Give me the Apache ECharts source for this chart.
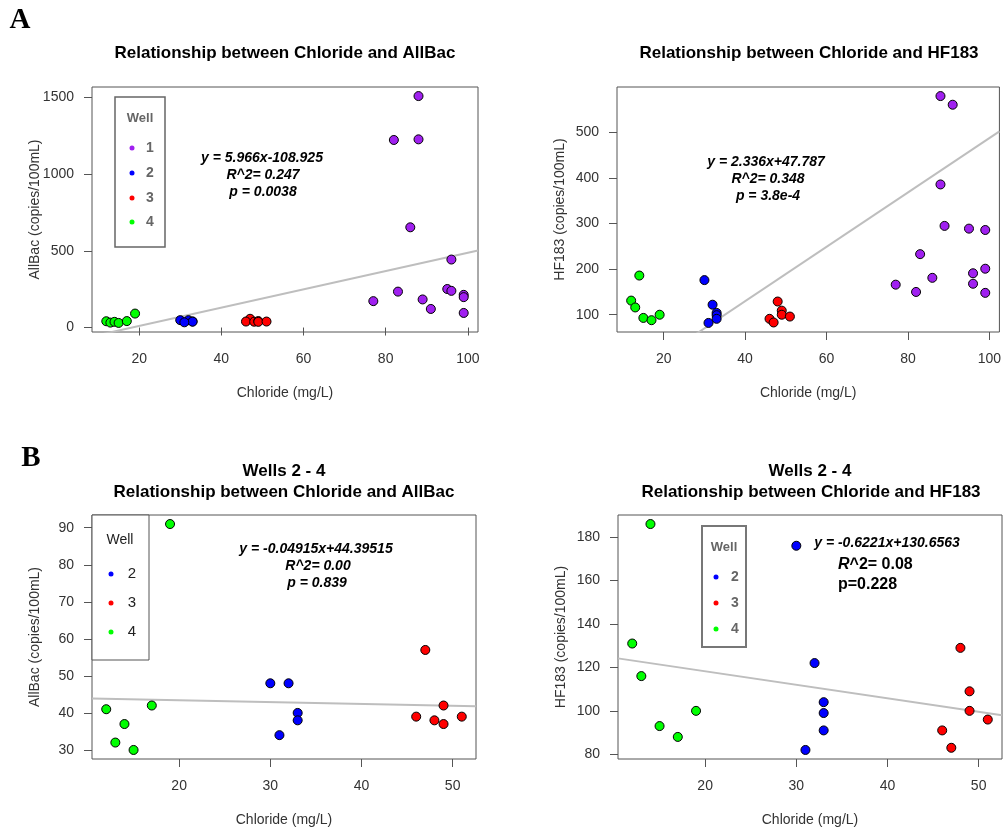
<!DOCTYPE html>
<html><head><meta charset="utf-8">
<script src="https://cdn.jsdelivr.net/npm/echarts@6/dist/echarts.min.js"></script>
<style>html,body{margin:0;padding:0;background:#fff}#c{width:1004px;height:832px}</style>
</head><body><div id="c"></div>
<script>
// ---------------- data ----------------
const wellLabels = ['1', '2', '3', '4'];

// AllBac panels: chloride (mg/L) and AllBac (copies/100mL)
const w1ChlAllBac = [88, 82, 88, 86, 96, 83, 95, 96, 99, 99, 77, 89, 91, 99];
const w1AllBac    = [1508, 1222, 1226, 653, 443, 234, 251, 239, 213, 198, 172, 183, 121, 95];
const w2ChlAllBac = [30, 32, 33, 33, 31];
const w2AllBac    = [48, 48, 40, 38, 34];
const w3ChlAllBac = [47, 46, 48, 49, 49, 51];
const w3AllBac    = [57, 39, 38, 42, 37, 39];
const w4ChlAllBac = [12, 13, 14, 15, 17, 19];
const w4AllBac    = [41, 32, 37, 30, 42, 91];

// HF183 panels: chloride (mg/L) and HF183 (copies/100mL)
const w1ChlHF = [88, 91, 88, 89, 95, 99, 83, 99, 96, 86, 77, 96, 82, 99];
const w1HF183 = [580, 561, 386, 295, 289, 286, 233, 201, 191, 181, 166, 168, 150, 148];
const w2ChlHF = [30, 32, 33, 33, 33, 31];
const w2HF183 = [176, 122, 104, 99, 91, 82];
const w3ChlHF = [48, 49, 49, 51, 46, 47];
const w3HF183 = [129, 109, 100, 96, 91, 83];
const w4ChlHF = [14, 12, 13, 15, 17, 19];
const w4HF183 = [186, 131, 116, 93, 88, 100];

// tick labels
const xTicksA  = [20, 40, 60, 80, 100];
const xTicksB  = [20, 30, 40, 50];
const yTicksA1 = [0, 500, 1000, 1500];
const yTicksA2 = [100, 200, 300, 400, 500];
const yTicksB1 = [30, 40, 50, 60, 70, 80, 90];
const yTicksB2 = [80, 100, 120, 140, 160, 180];

// fitted lines as drawn [slope, intercept]
const lineA1 = [5.966, -108.925];
const lineA2 = [5.966, -108.925];   // the HF183 panel shows the AllBac fit line
const lineB1 = [-0.04915, 44.39515];
const lineB2 = [-0.6221, 130.6563];

// annotation texts
const eqA1 = ['y = 5.966x-108.925', 'R^2= 0.247', 'p = 0.0038'];
const eqA2 = ['y = 2.336x+47.787', 'R^2= 0.348', 'p = 3.8e-4'];
const eqB1 = ['y = -0.04915x+44.39515', 'R^2= 0.00', 'p = 0.839'];
const eqB2 = ['y = -0.6221x+130.6563', 'R^2= 0.08', 'p=0.228'];

// ---------------- styles ----------------
const wellColors = { '1': '#A020F0', '2': '#0000FF', '3': '#FF0000', '4': '#00FF00' };
const FONT = '"Liberation Sans", Arial, sans-serif';
const BOX = '#555';

function rRange(arrs) {
  const all = [].concat(...arrs);
  const mn = Math.min(...all), mx = Math.max(...all);
  const pad = (mx - mn) * 0.04;
  return [mn - pad, mx + pad];
}
const zip = (xs, ys) => xs.map((x, i) => [x, ys[i]]);

const xRangeA  = rRange([w1ChlAllBac, w2ChlAllBac, w3ChlAllBac, w4ChlAllBac]);
const yRangeA1 = rRange([w1AllBac, w2AllBac, w3AllBac, w4AllBac]);
const yRangeA2 = rRange([w1HF183, w2HF183, w3HF183, w4HF183]);
const xRangeB  = rRange([w2ChlAllBac, w3ChlAllBac, w4ChlAllBac]);
const yRangeB1 = rRange([w2AllBac, w3AllBac, w4AllBac]);
const yRangeB2 = rRange([w2HF183, w3HF183, w4HF183]);

const grids = [
  { left: 92,  top: 87,  width: 386, height: 245 },
  { left: 617, top: 87,  width: 385, height: 245 },
  { left: 92,  top: 515, width: 384, height: 244 },
  { left: 618, top: 515, width: 384, height: 244 }
].map(g => Object.assign(g, { show: true, borderColor: BOX, borderWidth: 1, backgroundColor: 'transparent' }));

function axis(gi, range, ticks, name, isY) {
  return {
    type: 'value', gridIndex: gi, min: range[0], max: range[1],
    position: isY ? 'left' : 'bottom',
    axisLine: { show: false }, splitLine: { show: false },
    axisTick: { show: true, inside: false, customValues: ticks, length: 8, lineStyle: { color: BOX, width: 1 } },
    axisLabel: { customValues: ticks, fontSize: 14, color: '#333', fontFamily: FONT, margin: isY ? 18 : 20,
                 formatter: v => String(v) },
    name: name, nameLocation: 'middle', nameGap: isY ? 50 : 54, nameRotate: isY ? 90 : 0,
    nameMoveOverlap: false,
    nameTextStyle: { fontSize: 14, color: '#333', fontFamily: FONT }
  };
}

const xAxes = [
  axis(0, xRangeA, xTicksA, 'Chloride (mg/L)', false),
  axis(1, xRangeA, xTicksA, 'Chloride (mg/L)', false),
  axis(2, xRangeB, xTicksB, 'Chloride (mg/L)', false),
  axis(3, xRangeB, xTicksB, 'Chloride (mg/L)', false)
];
const yAxes = [
  axis(0, yRangeA1, yTicksA1, 'AllBac (copies/100mL)', true),
  axis(1, yRangeA2, yTicksA2, 'HF183 (copies/100mL)', true),
  axis(2, yRangeB1, yTicksB1, 'AllBac (copies/100mL)', true),
  axis(3, yRangeB2, yTicksB2, 'HF183 (copies/100mL)', true)
];

const series = [];
function fitLine(gi, coef, xr) {
  series.push({
    type: 'line', xAxisIndex: gi, yAxisIndex: gi, z: 1, silent: true, showSymbol: false, clip: true,
    lineStyle: { color: '#bebebe', width: 2 },
    data: [[xr[0], coef[0] * xr[0] + coef[1]], [xr[1], coef[0] * xr[1] + coef[1]]]
  });
}
function pts(gi, well, xs, ys) {
  series.push({
    type: 'scatter', name: well, xAxisIndex: gi, yAxisIndex: gi, z: 2, symbolSize: 9,
    itemStyle: { color: wellColors[well], borderColor: '#000', borderWidth: 1, opacity: 1 },
    data: zip(xs, ys)
  });
}
fitLine(0, lineA1, xRangeA);
fitLine(1, lineA2, xRangeA);
fitLine(2, lineB1, xRangeB);
fitLine(3, lineB2, xRangeB);
pts(0, '1', w1ChlAllBac, w1AllBac); pts(0, '2', w2ChlAllBac, w2AllBac);
pts(0, '3', w3ChlAllBac, w3AllBac); pts(0, '4', w4ChlAllBac, w4AllBac);
pts(1, '1', w1ChlHF, w1HF183); pts(1, '2', w2ChlHF, w2HF183);
pts(1, '3', w3ChlHF, w3HF183); pts(1, '4', w4ChlHF, w4HF183);
pts(2, '2', w2ChlAllBac, w2AllBac); pts(2, '3', w3ChlAllBac, w3AllBac); pts(2, '4', w4ChlAllBac, w4AllBac);
pts(3, '2', w2ChlHF, w2HF183); pts(3, '3', w3ChlHF, w3HF183); pts(3, '4', w4ChlHF, w4HF183);

// ---------------- graphic texts ----------------
const G = [];
function txt(text, x, y, o) {
  o = o || {};
  G.push({
    type: 'text', x: x, y: y, z: 10, silent: true,
    style: Object.assign({
      text: text, align: o.align || 'center', verticalAlign: 'middle',
      fontSize: o.size || 14, fontWeight: o.weight || 'normal', fontStyle: o.style || 'normal',
      fontFamily: o.family || FONT, fill: o.color || '#000'
    }, o.extra || {})
  });
}
// panel letters
txt('A', 20, 21, { size: 29, weight: 'bold', family: '"Liberation Serif", "Times New Roman", serif' });
txt('B', 31, 459, { size: 29, weight: 'bold', family: '"Liberation Serif", "Times New Roman", serif' });
// titles
txt('Relationship between Chloride and AllBac', 285, 53, { size: 17, weight: 'bold' });
txt('Relationship between Chloride and HF183', 809, 53, { size: 17, weight: 'bold' });
txt('Wells 2 - 4', 284, 471, { size: 17, weight: 'bold' });
txt('Relationship between Chloride and AllBac', 284, 492, { size: 17, weight: 'bold' });
txt('Wells 2 - 4', 810, 471, { size: 17, weight: 'bold' });
txt('Relationship between Chloride and HF183', 811, 492, { size: 17, weight: 'bold' });
// equations
const EQ = { size: 14, weight: 'bold', style: 'italic' };
txt(eqA1[0], 262, 158, EQ); txt(eqA1[1], 263, 175, EQ); txt(eqA1[2], 263, 192, EQ);
txt(eqA2[0], 766, 162, EQ); txt(eqA2[1], 768, 179, EQ); txt(eqA2[2], 768, 196, EQ);
txt(eqB1[0], 316, 549, EQ); txt(eqB1[1], 318, 566, EQ); txt(eqB1[2], 317, 583, EQ);
txt(eqB2[0], 887, 543, EQ);
G.push({
  type: 'text', x: 838, y: 565, z: 10, silent: true,
  style: {
    text: '{i|' + eqB2[1].slice(0, 1) + '}{b|' + eqB2[1].slice(1) + '}', align: 'left', verticalAlign: 'middle',
    rich: {
      i: { fontSize: 16, fontWeight: 'bold', fontStyle: 'italic', fontFamily: FONT, fill: '#000' },
      b: { fontSize: 16, fontWeight: 'bold', fontFamily: FONT, fill: '#000' }
    }
  }
});
txt(eqB2[2], 838, 585, { size: 16, weight: 'bold', align: 'left' });

// legends
function legend(box, title, labels, dotX, textX, ys, o) {
  G.push({ type: 'rect', z: 9, silent: true, shape: box,
           style: { fill: '#fff', stroke: o.stroke, lineWidth: o.lw } });
  txt(title[0], title[1], title[2], { size: o.size, weight: o.weight, color: o.color });
  labels.forEach((l, i) => {
    G.push({ type: 'circle', z: 10, silent: true, shape: { cx: dotX, cy: ys[i], r: 2.5 },
             style: { fill: wellColors[l] } });
    txt(l, textX, ys[i], { size: o.size + 1, weight: o.weight, color: o.color });
  });
}
legend({ x: 115, y: 97, width: 50, height: 150 }, ['Well', 140, 118], wellLabels, 132, 150,
       [148, 173, 198, 222], { stroke: '#666', lw: 1.5, size: 13, weight: 'bold', color: '#666' });
legend({ x: 92, y: 515, width: 57, height: 145 }, ['Well', 120, 540], wellLabels.slice(1), 111, 132,
       [574, 603, 632], { stroke: BOX, lw: 1, size: 14, weight: 'normal', color: '#222' });
legend({ x: 702, y: 526, width: 44, height: 121 }, ['Well', 724, 547], wellLabels.slice(1), 716, 735,
       [577, 603, 629], { stroke: '#777', lw: 2, size: 13, weight: 'bold', color: '#666' });

const chart = echarts.init(document.getElementById('c'), null, { renderer: 'canvas' });
chart.setOption({
  animation: false,
  backgroundColor: '#fff',
  grid: grids,
  xAxis: xAxes,
  yAxis: yAxes,
  series: series,
  graphic: { elements: G }
});
</script>
</body></html>
